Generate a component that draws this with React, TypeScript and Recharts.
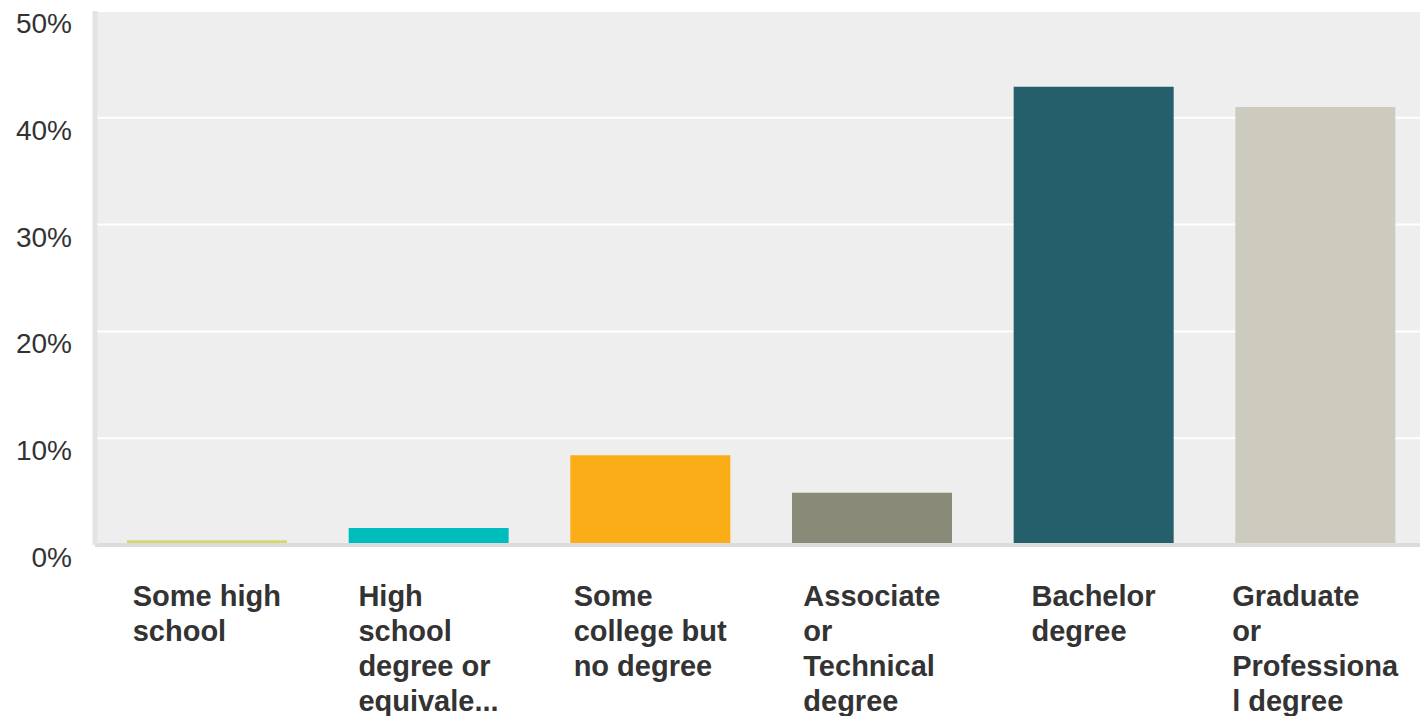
import React from "react";
import { BarChart, Bar, Cell, XAxis, YAxis, CartesianGrid } from "recharts";

const categories = [
  "Some high school",
  "High school degree or equivalent",
  "Some college but no degree",
  "Associate or Technical degree",
  "Bachelor degree",
  "Graduate or Professional degree",
];

// labels as they wrap in the original (truncation included)
const tickLines = [
  ["Some high", "school"],
  ["High", "school", "degree or", "equivale..."],
  ["Some", "college but", "no degree"],
  ["Associate", "or", "Technical", "degree"],
  ["Bachelor", "degree"],
  ["Graduate", "or", "Professiona", "l degree"],
];

const shares = [0.45, 1.6, 8.4, 4.9, 42.9, 41.0];

const barColors = ["#d6d66c", "#00bdbd", "#fbad17", "#8a8a78", "#255f6b", "#cdcbbd"];

const yTicks = [0, 10, 20, 30, 40, 50];

const FONT = "'Liberation Sans', Arial, Helvetica, sans-serif";

const data = categories.map((name, i) => ({ name, value: shares[i] }));

let ctx: CanvasRenderingContext2D | null = null;
function textWidth(s: string) {
  if (!ctx) {
    ctx = document.createElement("canvas").getContext("2d");
  }
  if (!ctx) return s.length * 16;
  ctx.font = `bold 29px ${FONT}`;
  return ctx.measureText(s).width;
}

function XTick(props: any) {
  const { x, y, payload } = props;
  const lines = tickLines[payload.index] || [payload.value];
  const w = Math.max(...lines.map(textWidth));
  const left = x - w / 2;
  return (
    <text
      x={left}
      y={y + 61}
      fill="#333"
      fontSize={29}
      fontWeight="bold"
      fontFamily={FONT}
      textAnchor="start"
    >
      {lines.map((l, i) => (
        <tspan key={i} x={left} dy={i === 0 ? 0 : 35}>
          {l}
        </tspan>
      ))}
    </text>
  );
}

function YTick(props: any) {
  const { x, y, payload } = props;
  return (
    <text
      x={x - 23}
      y={y + 22}
      fill="#333"
      fontSize={28}
      fontFamily={FONT}
      textAnchor="end"
    >
      {`${payload.value}%`}
    </text>
  );
}

export default function App() {
  return (
    <div
      style={{
        position: "absolute",
        left: 0,
        top: 0,
        width: 1420,
        height: 716,
        overflow: "hidden",
        background: "#fff",
      }}
    >
      <BarChart
        width={1426}
        height={716}
        data={data}
        margin={{ top: 11, right: 0, bottom: 0, left: 0 }}
      >
        <CartesianGrid
          vertical={false}
          fill="#eeeeee"
          stroke="#ffffff"
          strokeWidth={2}
        />
        <XAxis
          dataKey="name"
          height={171}
          padding={{ left: 1, right: 0 }}
          tickLine={false}
          tickSize={0}
          tickMargin={0}
          axisLine={{ stroke: "#dcdcdc", strokeWidth: 4 }}
          tick={<XTick />}
          interval={0}
        />
        <YAxis
          width={95}
          domain={[0, 50]}
          ticks={yTicks}
          tickLine={false}
          tickSize={0}
          tickMargin={0}
          axisLine={{ stroke: "#e3e3e3", strokeWidth: 5 }}
          tick={<YTick />}
        />
        <Bar dataKey="value" barSize={160} isAnimationActive={false}>
          {data.map((_, i) => (
            <Cell key={`cell-${i}`} fill={barColors[i]} />
          ))}
        </Bar>
      </BarChart>
    </div>
  );
}
